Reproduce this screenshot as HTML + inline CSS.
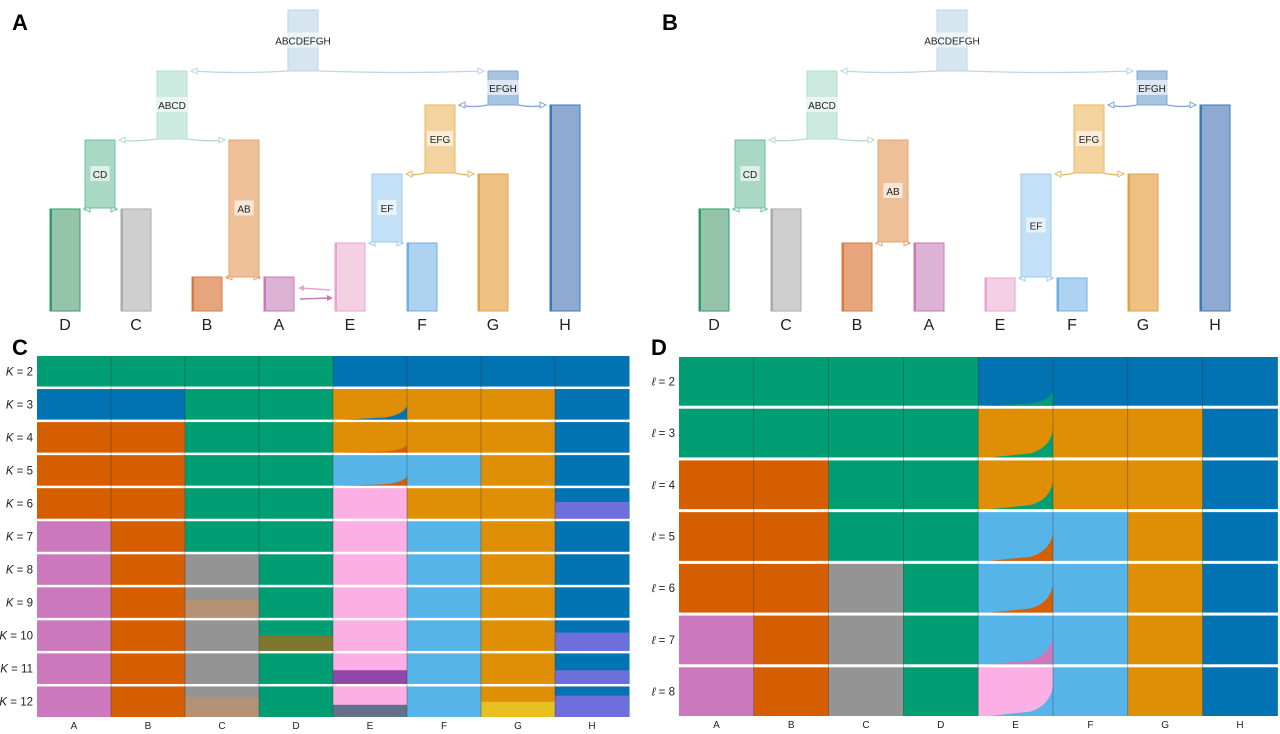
<!DOCTYPE html>
<html><head><meta charset="utf-8"><style>
html,body{margin:0;padding:0;background:#fff;}
svg{display:block;font-family:"Liberation Sans","DejaVu Sans",sans-serif;}
</style></head><body>
<svg id="fig" width="1280" height="734" viewBox="0 0 1280 734">
<g id="trees"></g>
<g id="structC"></g>
<g id="structD"></g>
</svg>
<script>
const NS="http://www.w3.org/2000/svg";
const svg=document.getElementById('fig');
function mk(tag,attrs,parent){const e=document.createElementNS(NS,tag);for(const k in attrs)e.setAttribute(k,attrs[k]);(parent||svg).appendChild(e);return e;}

// ---------- Tree data ----------
const treeA=[
 ["ABCDEFGH",288,10,71,"#d6e6f0","#bcd6e6",0],
 ["ABCD",157,71,139,"#cdeae0","#b3ddcd",0],
 ["EFGH",488,71,105,"#a7c4e0","#7fa8d2",0],
 ["CD",85,140,208,"#a9d8c5","#6cc19c",0],
 ["AB",229,140,277,"#eec098","#e2a470",0],
 ["EFG",425,105,173,"#f3d49f","#e9b866",0],
 ["EF",372,174,242,"#c4e0f6","#9dcbef",0],
 ["D",50,209,311,"#96c4ab","#2e9c6a",1],
 ["C",121,209,311,"#cfcfcf","#aaaaaa",1],
 ["B",192,277,311,"#e6a57c","#d87a3c",1],
 ["A",264,277,311,"#dcb2d5","#c77ab7",1],
 ["E",335,243,311,"#f4d0e4","#e8a3cf",1],
 ["F",407,243,311,"#aed2f0","#6cb0e6",1],
 ["G",478,174,311,"#eec183","#e1a24a",1],
 ["H",550,105,311,"#8eaad3","#3a78b8",1]
];
const treeB=[
 ["ABCDEFGH",287,10,71,"#d6e6f0","#bcd6e6",0],
 ["ABCD",157,71,139,"#cdeae0","#b3ddcd",0],
 ["EFGH",487,71,105,"#a7c4e0","#7fa8d2",0],
 ["CD",85,140,208,"#a9d8c5","#6cc19c",0],
 ["AB",228,140,242,"#eec098","#e2a470",0],
 ["EFG",424,105,173,"#f3d49f","#e9b866",0],
 ["EF",371,174,277,"#c4e0f6","#9dcbef",0],
 ["D",49,209,311,"#96c4ab","#2e9c6a",1],
 ["C",121,209,311,"#cfcfcf","#aaaaaa",1],
 ["B",192,243,311,"#e6a57c","#d87a3c",1],
 ["A",264,243,311,"#dcb2d5","#c77ab7",1],
 ["E",335,278,311,"#f4d0e4","#e8a3cf",1],
 ["F",407,278,311,"#aed2f0","#6cb0e6",1],
 ["G",478,174,311,"#eec183","#e1a24a",1],
 ["H",550,105,311,"#8eaad3","#3a78b8",1]
];
const edges=[["ABCDEFGH","ABCD"],["ABCDEFGH","EFGH"],["ABCD","CD"],["ABCD","AB"],["CD","D"],["CD","C"],["AB","B"],["AB","A"],["EFGH","EFG"],["EFGH","H"],["EFG","EF"],["EFG","G"],["EF","E"],["EF","F"]];

function drawTree(data,ox,letter,migr){
 const g=mk('g',{},document.getElementById('trees'));
 const t=mk('text',{x:ox+12,y:30,'font-size':22,'font-weight':'bold',fill:'#000'},g);t.textContent=letter;
 
 const by={};data.forEach(d=>by[d[0]]=d);
 const W=30;
 edges.forEach(([p,c])=>{
  const P=by[p],C=by[c];
  const py=P[3];
  const cx=C[1]+ox+(C[1]<P[1]?W:0), cy=C[2];
  const tx=C[1]<P[1]?cx+4:cx-4;
  const sx=C[1]<P[1]?P[1]+ox:P[1]+ox+W;
  const e=mk('path',{d:`M${sx},${py} Q${(sx+tx)/2},${py+3} ${tx},${cy}`,fill:'none',stroke:P[5],'stroke-width':1.3},g);
  
  const dir=C[1]<P[1]?-1:1;
  mk('path',{d:`M${tx},${cy} l${-dir*6},-3 l0,6 z`,fill:'#fff',stroke:P[5],'stroke-width':1},g);
 });
 data.forEach(d=>{
  const r=mk('rect',{x:d[1]+ox,y:d[2],width:W,height:d[3]-d[2],fill:d[4],stroke:d[5],'stroke-width':1},g);
  
  if(d[6]){
   mk('rect',{x:d[1]+ox,y:d[2],width:2,height:d[3]-d[2],fill:d[5]},g);
   const l=mk('text',{x:d[1]+ox+W/2,y:330,'font-size':16,'text-anchor':'middle',fill:'#222'},g);l.textContent=d[0];
   
  } else {
   const my=(d[2]+d[3])/2;const tw=d[0].length*6.6+6;
   mk('rect',{x:d[1]+ox+W/2-tw/2,y:my-8,width:tw,height:15,fill:'#fff',opacity:0.6},g);
   const l=mk('text',{x:d[1]+ox+W/2,y:my+4,'font-size':10,'text-anchor':'middle',fill:'#222'},g);l.textContent=d[0];
   
  }
 });
 if(migr){
  const m1=mk('path',{d:`M${ox+330},290 L${ox+300},288`,stroke:'#e8a3cf','stroke-width':1.5,fill:'none'},g);
  
  mk('path',{d:`M${ox+298},288 l6,-3 l0,6 z`,fill:'#e8a3cf'},g);
  const m2=mk('path',{d:`M${ox+300},299 L${ox+330},298`,stroke:'#c77ab7','stroke-width':1.5,fill:'none'},g);
  
  mk('path',{d:`M${ox+333},298 l-6,-3 l0,6 z`,fill:'#c77ab7'},g);
 }
}
drawTree(treeA,0,'A',true);
drawTree(treeB,650,'B',false);

// ---------- Structure data ----------
const pops=["A","B","C","D","E","F","G","H"];
const palette={g:"#029E73",b:"#0173B2",o:"#DE8F05",v:"#D55E00",s:"#56B4E9",p:"#CC78BC",l:"#FBAFE4",y:"#949494",t:"#CA9161",u:"#B86BF8",k:"#4B0082",d:"#00474f",z:"#ECE133"};
const labelsC=["2","3","4","5","6","7","8","9","10","11","12"];
const rowsC=["ggggbbbb","bbggooob","vvggooob","vvggssob","vvggloob","pvgglsob","pvyglsob","pvyglsob","pvyglsob","pvyglsob","pvyglsob"];
// overlays: [row, pop, colour, fraction of height at bottom]
const overlaysC=[[4,7,"u",0.55],[7,2,"t",0.6],[8,3,"v",0.5],[8,7,"u",0.6],[9,4,"k",0.45],[9,7,"u",0.45],[10,2,"t",0.65],[10,4,"d",0.4],[10,6,"z",0.5],[10,7,"u",0.7]];
const wedgesC=[[1,4,"b",0.45],[2,4,"v",0.25],[3,4,"v",0.3]];
const labelsD=["2","3","4","5","6","7","8"];
const rowsD=["ggggbbbb","ggggooob","vvggooob","vvggssob","vvygssob","pvygssob","pvyglsob"];
const wedgesD=[[0,4,"g",0.3],[1,4,"g",0.55],[2,4,"g",0.55],[3,4,"v",0.55],[4,4,"v",0.55],[5,4,"p",0.55],[6,4,"s",0.6]];

function drawStruct(gid,letter,lx,x0,colW,y0,y1,gap,rows,labels,sym,overlays,wedges){
 const g=document.getElementById(gid);
 
 const t=mk('text',{x:lx,y:355,'font-size':22,'font-weight':'bold',fill:'#000'},g);t.textContent=letter;
 
 const n=rows.length;const h=(y1-y0-gap*(n-1))/n;
 const X=i=>x0+i*colW, Y=r=>y0+r*(h+gap);
 rows.forEach((row,r)=>{
  for(let i=0;i<8;i++){
   const c=row[i] in palette?row[i]:'b';
   const rc=mk('rect',{x:X(i),y:Y(r),width:colW+0.5,height:h,fill:palette[c]},g);
   
  }
  const lb=mk('text',{x:x0-4,y:Y(r)+h/2+4,'font-size':11.5,'text-anchor':'end',fill:'#222'},g);
  lb.innerHTML=`<tspan font-style="italic">${sym}</tspan> = ${labels[r]}`;
  
 });
 overlays.forEach(([r,i,c,f])=>{
  const o=mk('rect',{x:X(i),y:Y(r)+h*(1-f),width:colW,height:h*f,fill:palette[c],opacity:0.6},g);
  
 });
 wedges.forEach(([r,i,c,f])=>{
  const x=X(i),yb=Y(r)+h;
  const w=mk('path',{d:`M${x+colW*0.15},${yb} L${x+colW*0.7},${yb-h*f*0.15} Q${x+colW*0.95},${yb-h*f*0.35} ${x+colW},${yb-h*f} L${x+colW},${yb} Z`,fill:palette[c]},g);
  
 });
 for(let i=1;i<8;i++) mk('line',{x1:X(i),x2:X(i),y1:y0,y2:y1,stroke:'#333','stroke-width':0.6,opacity:0.6},g);
 pops.forEach((p,i)=>{
  const l=mk('text',{x:X(i)+colW/2,y:y1+12,'font-size':10,'text-anchor':'middle',fill:'#222'},g);l.textContent=p;
  
 });
}
drawStruct('structC','C',12,37,74,356,717,2.5,rowsC,labelsC,'K',overlaysC,wedgesC);
drawStruct('structD','D',651,679,74.8,357,716,3,rowsD,labelsD,'ℓ',[],wedgesD);
</script>
</body></html>
